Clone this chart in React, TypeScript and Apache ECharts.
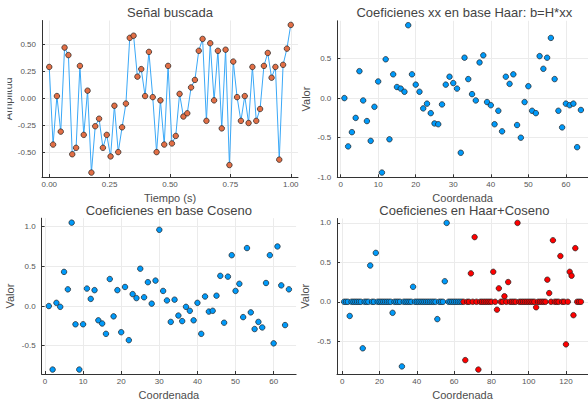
import React, { useEffect, useRef } from "react";
import * as echarts from "echarts";

// ---- Data ----
const signal = [
  0.29, -0.43, 0.02, -0.31, 0.47, 0.40, -0.52, -0.46, 0.30, -0.34,
  0.07, -0.69, -0.26, -0.19, -0.46, -0.34, -0.54, -0.07, -0.50, -0.27,
  -0.05, 0.56, 0.58, 0.20, 0.27, 0.02, 0.43, 0.01, -0.50, -0.02,
  -0.43, 0.30, -0.42, -0.35, 0.04, -0.17, -0.14, 0.10, 0.17, 0.44,
  0.55, -0.21, 0.51, -0.02, 0.44, -0.28, 0.45, -0.62, 0.34, 0.01,
  -0.21, 0.02, -0.23, 0.29, -0.21, -0.10, 0.30, 0.42, 0.19, 0.29,
  -0.57, 0.31, 0.46, 0.68,
];

const haarCoefs = [
  0.00, -0.61, -0.43, -0.25, 0.34, -0.03, -0.29, -0.54, -0.11, 0.21,
  -0.94, 0.49, -0.52, 0.30, 0.14, 0.12, 0.08, 0.92, 0.30, 0.17,
  0.08, -0.13, -0.07, -0.19, -0.32, -0.33, -0.08, 0.17, 0.27, 0.19,
  0.12, -0.69, 0.51, 0.24, 0.05, -0.03, 0.45, 0.54, -0.05, -0.09,
  -0.33, -0.16, -0.42, 0.27, 0.18, 0.30, -0.34, -0.50, -0.05, 0.15,
  -0.16, -0.19, 0.53, 0.37, 0.51, 0.76, 0.24, -0.16, -0.37, -0.07,
  -0.09, -0.07, -0.62, -0.15,
];

const cosCoefs = [
  0.00, -0.80, 0.04, -0.01, 0.43, 0.21, 1.05, -0.23, -0.80, -0.23,
  0.22, 0.09, 0.20, -0.18, -0.22, -0.35, 0.34, -0.13, 0.20, -0.33,
  0.24, -0.43, 0.15, 0.10, 0.47, 0.11, 0.30, 0.03, 0.32, 0.96,
  0.19, 0.07, -0.20, 0.08, -0.12, -0.19, -0.01, -0.06, -0.18, 0.04,
  -0.35, 0.12, -0.07, -0.06, 0.13, 0.38, -0.21, 0.37, 0.64, 0.19,
  0.28, -0.14, 0.73, -0.08, -0.29, -0.20, -0.27, 0.29, 0.64, -0.47,
  0.75, 0.26, -0.24, 0.21,
];

// Haar+Coseno: coordinates 1..64 (Haar part) and 65..128 (cosine part)
const mixHaar = [
  0, 0, 0, -0.18, 0, 0, 0, 0, 0, 0,
  -0.59, 0, 0, 0, 0.46, 0, 0, 0.62, 0, 0,
  0, 0, 0, 0, 0, 0, -0.14, 0, 0, 0,
  0, -0.82, 0, 0, 0, 0, 0, 0.19, 0, 0,
  0, 0, 0, 0, 0, 0, 0, 0, 0, 0,
  -0.22, 0, 0, 0, 0.26, 1.00, 0, 0, 0, 0,
  0, 0, 0, 0,
];
const mixCos = [
  0, -0.74, 0, 0, 0.36, 0, 0.82, 0, -0.86, 0,
  0, 0, 0, 0, 0, 0, 0.38, 0, -0.10, 0.17,
  0, 0, 0.07, 0, 0.25, 0, 0, 0, 0, 1.00,
  0, 0, 0, 0, 0, 0, 0, 0, 0, -0.07,
  0, 0, 0, 0, 0, 0.28, 0.11, 0, 0.78, 0,
  0, 0, 0.58, 0, 0, -0.54, 0, 0.38, 0.33, -0.17,
  0.68, 0, 0, 0,
];

const timeTicks = [0, 0.25, 0.5, 0.75, 1];
const signalTicks = [-0.5, -0.25, 0, 0.25, 0.5];
const coordTicks64 = [0, 10, 20, 30, 40, 50, 60];
const coordTicks128 = [0, 20, 40, 60, 80, 100, 120];
const haarTicksY = [-1, -0.5, 0, 0.5];
const cosTicksY = [-0.5, 0, 0.5, 1];
const mixTicksY = [-0.5, 0, 0.5, 1];

const titles = [
  "Señal buscada",
  "Coeficienes xx en base Haar: b=H*xx",
  "Coeficienes en base Coseno",
  "Coeficienes en Haar+Coseno",
];

const FONT = "'Liberation Sans', Arial, Helvetica, sans-serif";

function axis(
  gridIndex: number,
  min: number,
  max: number,
  ticks: number[],
  fmt: (v: number) => string,
  name: string,
  nameGap: number,
  isX: boolean
) {
  return {
    type: "value",
    gridIndex,
    min,
    max,
    name,
    nameLocation: "middle",
    nameGap,
    nameTextStyle: { fontSize: 11, color: "#4d4d4d", fontFamily: FONT },
    axisLine: { show: true, onZero: false, lineStyle: { color: "#333", width: 1 } },
    axisTick: {
      show: true,
      inside: true,
      length: 3,
      customValues: ticks,
      lineStyle: { color: "#333", width: 1 },
    },
    axisLabel: {
      customValues: ticks,
      formatter: fmt,
      fontSize: 8,
      color: "#555",
      margin: isX ? 3 : 6,
      fontFamily: FONT,
    },
    splitLine: { show: true, lineStyle: { color: "#ebebeb", width: 1 } },
  };
}

const f2 = (v: number) => v.toFixed(2);
const f1 = (v: number) => v.toFixed(1);
const f0 = (v: number) => String(Math.round(v));

export default function App() {
  const ref = useRef<HTMLDivElement>(null);

  useEffect(() => {
    if (!ref.current) return;
    const chart = echarts.init(ref.current, undefined, { renderer: "svg" });

    const signalData = signal.map((v, i) => [i / (signal.length - 1), v]);
    const haarData = haarCoefs.map((v, i) => [i + 1, v]);
    const cosData = cosCoefs.map((v, i) => [i + 1, v]);
    const mixHaarData = mixHaar.map((v, i) => [i + 1, v]);
    const mixCosData = mixCos.map((v, i) => [i + 65, v]);

    const grids = [
      { left: 42, top: 20.5, width: 256, height: 156.5 },
      { left: 337.3, top: 20.8, width: 254, height: 156.5 },
      { left: 41.6, top: 218.2, width: 254.5, height: 157.5 },
      { left: 337, top: 218.5, width: 254.8, height: 157.2 },
    ];

    const titleX = [170, 464.3, 168.8, 464.4];
    const titleY = [12, 12, 210, 210];

    const markerStyle = (color: string) => ({
      color,
      opacity: 1,
      borderColor: "#1e1e1e",
      borderWidth: 0.7,
    });

    const titleGraphics = titles.map((t, i) => ({
      type: "text",
      x: titleX[i],
      y: titleY[i],
      z: 50,
      style: {
        text: t,
        fontSize: 13,
        fontFamily: FONT,
        fill: "#444",
        align: "center",
        verticalAlign: "middle",
      },
    }));

    chart.setOption({
      animation: false,
      backgroundColor: "#ffffff",
      grid: grids.map((g) => ({ ...g, containLabel: false })),
      xAxis: [
        axis(0, -0.03, 1.03, timeTicks, f2, "Tiempo (s)", 15.5, true),
        axis(1, -0.89, 65.89, coordTicks64, f0, "Coordenada", 15, true),
        axis(2, -0.89, 65.89, coordTicks64, f0, "Coordenada", 15, true),
        axis(3, -2.81, 131.81, coordTicks128, f0, "Coordenada", 15, true),
      ],
      yAxis: [
        axis(0, -0.731, 0.721, signalTicks, f2, "Amplitud", 26, false),
        axis(1, -1.0, 0.976, haarTicksY, f1, "Valor", 26, false),
        axis(2, -0.856, 1.106, cosTicksY, f1, "Valor", 26, false),
        axis(3, -0.916, 1.056, mixTicksY, f1, "Valor", 27, false),
      ],
      graphic: [
        ...titleGraphics,
        {
          type: "rect",
          z: 60,
          shape: { x: 0, y: 55, width: 7.5, height: 90 },
          style: { fill: "#ffffff" },
          silent: true,
        },
      ],
      series: [
        {
          type: "line",
          xAxisIndex: 0,
          yAxisIndex: 0,
          data: signalData,
          showSymbol: false,
          symbol: "none",
          lineStyle: { color: "#3aa8f7", width: 1 },
          z: 2,
        },
        {
          type: "scatter",
          xAxisIndex: 0,
          yAxisIndex: 0,
          data: signalData,
          symbolSize: 5.5,
          itemStyle: markerStyle("#e26f46"),
          z: 3,
        },
        {
          type: "scatter",
          xAxisIndex: 1,
          yAxisIndex: 1,
          data: haarData,
          symbolSize: 5.5,
          itemStyle: markerStyle("#009afa"),
        },
        {
          type: "scatter",
          xAxisIndex: 2,
          yAxisIndex: 2,
          data: cosData,
          symbolSize: 5.5,
          itemStyle: markerStyle("#009afa"),
        },
        {
          type: "scatter",
          xAxisIndex: 3,
          yAxisIndex: 3,
          data: mixHaarData,
          symbolSize: 5.5,
          itemStyle: markerStyle("#009afa"),
        },
        {
          type: "scatter",
          xAxisIndex: 3,
          yAxisIndex: 3,
          data: mixCosData,
          symbolSize: 5.5,
          itemStyle: markerStyle("#ff0000"),
        },
      ],
    });

    return () => chart.dispose();
  }, []);

  return (
    <div
      ref={ref}
      style={{ position: "fixed", left: 0, top: 0, width: 588, height: 401, background: "#fff" }}
    />
  );
}
